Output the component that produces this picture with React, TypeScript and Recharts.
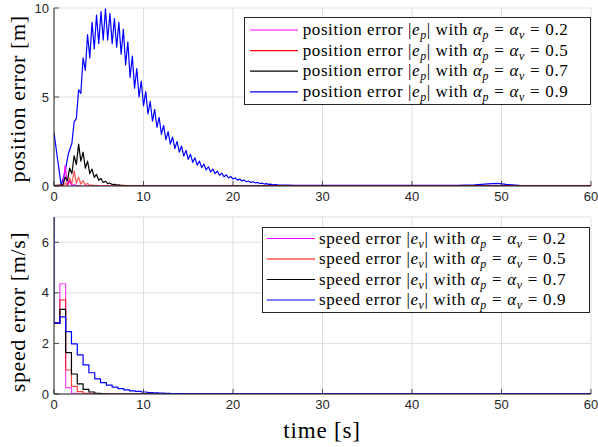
import React from 'react';
import { LineChart, Line, XAxis, YAxis, CartesianGrid } from 'recharts';

// ---------- data ----------
const xTicks = [0, 10, 20, 30, 40, 50, 60];
const posTicks = [0, 5, 10];
const speedTicks = [0, 2, 4, 6];
const alphaValues = ['0.2', '0.5', '0.7', '0.9'];
const seriesColors = ['#ff00ff', '#ff0000', '#000000', '#0000ff'];

// position error [t, |e_p|]
const posMagenta: [number, number][] = [
  [0, 0.02], [0.8, 0.02], [1.0, 0.02], [1.25, 1.15], [1.5, 0.03], [1.75, 0.3], [2.0, 0.02],
  [2.25, 0.08], [2.5, 0.01], [2.75, 0.02], [3.0, 0.0], [60, 0.0],
];
const posRed: [number, number][] = [
  [0, 0.02], [0.8, 0.03], [1.0, 0.02], [1.25, 0.15], [1.5, 0.05], [1.75, 0.45], [2.0, 0.12],
  [2.25, 0.85], [2.5, 0.15], [2.75, 0.5], [3.0, 0.1], [3.25, 0.3], [3.5, 0.06], [3.75, 0.15],
  [4.0, 0.03], [4.25, 0.07], [4.5, 0.015], [4.75, 0.03], [5.0, 0.01], [60, 0.005],
];
const posBlack: [number, number][] = [
  [0, 0.02], [0.8, 0.05], [1.0, 0.05], [1.25, 0.5], [1.5, 0.3], [1.75, 1.0], [2.0, 0.7],
  [2.25, 1.7], [2.5, 1.2], [2.75, 2.35], [3.0, 1.4], [3.25, 1.9], [3.5, 1.0], [3.75, 1.4],
  [4.0, 0.7], [4.25, 0.95], [4.5, 0.48], [4.75, 0.65], [5.0, 0.32], [5.25, 0.42], [5.5, 0.2],
  [5.75, 0.27], [6.0, 0.13], [6.25, 0.17], [6.5, 0.08], [6.75, 0.1], [7.0, 0.05], [7.25, 0.06],
  [7.5, 0.03], [7.75, 0.04], [8.0, 0.02], [8.25, 0.025], [8.5, 0.015], [10, 0.01], [60, 0.01],
];
const posBlue: [number, number][] = [
  [0, 3.0], [0.4, 1.5], [0.8, 0.05], [1.2, 0.7], [1.6, 1.8],
  [2.0, 2.4], [2.25, 3.6], [2.5, 3.8], [2.75, 5.4], [3.0, 5.2], [3.25, 7.2], [3.5, 6.5], [3.75, 8.5],
  [4.0, 7.2], [4.25, 9.2], [4.5, 7.7], [4.75, 9.6], [5.0, 8.0], [5.25, 9.8], [5.5, 8.2], [5.75, 9.95],
  [6.0, 8.2], [6.25, 9.7], [6.5, 8.0], [6.75, 9.4], [7.0, 7.8], [7.25, 9.2], [7.5, 7.4], [7.75, 8.8],
  [8.0, 6.8], [8.25, 8.1], [8.5, 6.1], [8.75, 7.3], [9.0, 5.5], [9.25, 6.6], [9.5, 5.0], [9.75, 5.9],
  [10.0, 4.5], [10.25, 5.3], [10.5, 4.05], [10.75, 4.75], [11.0, 3.65], [11.25, 4.3], [11.5, 3.3],
  [11.75, 3.85], [12.0, 2.9], [12.25, 3.4], [12.5, 2.6], [12.75, 3.05], [13.0, 2.35], [13.25, 2.75],
  [13.5, 2.1], [13.75, 2.5], [14.0, 1.9], [14.25, 2.25], [14.5, 1.68], [14.75, 2.0], [15.0, 1.5],
  [15.25, 1.78], [15.5, 1.33], [15.75, 1.58], [16.0, 1.17], [16.25, 1.4], [16.5, 1.03], [16.75, 1.23],
  [17.0, 0.9], [17.25, 1.08], [17.5, 0.79], [17.75, 0.95], [18.0, 0.69], [18.25, 0.83], [18.5, 0.6],
  [18.75, 0.72], [19.0, 0.52], [19.25, 0.62], [19.5, 0.45], [19.75, 0.54], [20.0, 0.39], [20.25, 0.46],
  [20.5, 0.33], [20.75, 0.39], [21.0, 0.28], [21.25, 0.33], [21.5, 0.24], [21.75, 0.28], [22.0, 0.2],
  [22.25, 0.24], [22.5, 0.17], [22.75, 0.2], [23.0, 0.14], [23.25, 0.16], [23.5, 0.11], [23.75, 0.13],
  [24.0, 0.09], [24.25, 0.1], [24.5, 0.07], [24.75, 0.08], [25.0, 0.06], [27, 0.04], [30, 0.03],
  [45, 0.03], [47, 0.06], [48.5, 0.12], [49.5, 0.15], [50.5, 0.09], [52, 0.03], [60, 0.02],
];

// speed error [t, |e_v|] (sample-and-hold)
const speedMagenta: [number, number][] = [
  [0, 2.8], [0.65, 4.36], [1.3, 0.25], [1.95, 0.03], [2.6, 0], [60, 0],
];
const speedRed: [number, number][] = [
  [0, 2.8], [0.65, 3.72], [1.3, 0.95], [1.95, 0.3], [2.6, 0.09], [3.25, 0.03], [3.9, 0.01], [4.55, 0], [60, 0],
];
const speedBlack: [number, number][] = [
  [0, 2.8], [0.65, 3.35], [1.3, 1.64], [1.95, 0.79], [2.6, 0.4], [3.25, 0.18], [3.9, 0.08],
  [4.55, 0.03], [5.2, 0.01], [5.85, 0], [60, 0],
];
const speedBlue: [number, number][] = [
  [0, 7.0], [0, 2.8], [0.65, 3.05], [1.3, 2.47], [1.95, 1.98], [2.6, 1.55], [3.25, 1.15], [3.9, 0.84],
  [4.55, 0.6], [5.2, 0.45], [5.85, 0.35], [6.5, 0.27], [7.15, 0.21], [7.8, 0.16], [8.45, 0.125],
  [9.1, 0.1], [9.75, 0.08], [10.4, 0.06], [11.05, 0.05], [11.7, 0.04], [12.35, 0.03], [13.0, 0.02],
  [13.65, 0.015], [14.3, 0.01], [60, 0.01],
];

// ---------- helpers ----------
const toPts = (arr: [number, number][]) => arr.map(([t, v]) => ({ t, v }));

const AX = '#262626';
const TICK_FONT = '"Liberation Sans", Arial, Helvetica, sans-serif';
const SERIF = '"Liberation Serif", "Times New Roman", serif';
const TICK_LEN = 5;

const BottomTick = (props: any) => {
  const { x, y, payload } = props;
  const axisY = y - 6;
  return (
    <g>
      <line x1={x} x2={x} y1={axisY} y2={axisY - TICK_LEN} stroke={AX} strokeWidth={0.8} />
      <text x={x} y={y} dy="0.71em" textAnchor="middle" fontFamily={TICK_FONT} fontSize={13} fill={AX}>
        {payload.value}
      </text>
    </g>
  );
};
const TopTick = (props: any) => {
  const { x, y } = props;
  return <line x1={x} x2={x} y1={y} y2={y + TICK_LEN} stroke={AX} strokeWidth={0.8} />;
};
const LeftTick = (props: any) => {
  const { x, y, payload } = props;
  const axisX = x + 5;
  return (
    <g>
      <line x1={axisX} x2={axisX + TICK_LEN} y1={y} y2={y} stroke={AX} strokeWidth={0.8} />
      <text x={x} y={y} dy="0.35em" textAnchor="end" fontFamily={TICK_FONT} fontSize={13} fill={AX}>
        {payload.value}
      </text>
    </g>
  );
};
const RightTick = (props: any) => {
  const { x, y } = props;
  return <line x1={x} x2={x - TICK_LEN} y1={y} y2={y} stroke={AX} strokeWidth={0.8} />;
};

const Sub = ({ children }: { children: React.ReactNode }) => (
  <sub style={{ fontSize: '0.7em', verticalAlign: '-0.3em', lineHeight: 0, fontStyle: 'italic' }}>{children}</sub>
);
const Eq = () => <span style={{ margin: '0 0.3em' }}>=</span>;

type LegendProps = {
  left: number; top: number; width: number; height: number;
  prefix: string; errSub: string; firstRow: number; rowGap: number;
  lineX1: number; lineX2: number; textX: number;
};
const LegendBox = (p: LegendProps) => (
  <div
    style={{
      position: 'absolute', left: p.left, top: p.top, width: p.width, height: p.height,
      boxSizing: 'border-box', border: `1px solid ${AX}`, background: '#fff',
    }}
  >
    <svg width={p.width} height={p.height} style={{ position: 'absolute', left: -1, top: -1 }}>
      {alphaValues.map((a, i) => (
        <line key={a} x1={p.lineX1} x2={p.lineX2} y1={p.firstRow + i * p.rowGap} y2={p.firstRow + i * p.rowGap}
          stroke={seriesColors[i]} strokeWidth={1.2} />
      ))}
    </svg>
    {alphaValues.map((a, i) => (
      <div key={a}
        style={{
          position: 'absolute', left: p.textX - 1, top: p.firstRow + i * p.rowGap - 12, height: 22,
          lineHeight: '22px', whiteSpace: 'nowrap', fontFamily: SERIF, fontSize: 17, letterSpacing: '0.6px', color: '#000',
        }}
      >
        {p.prefix} |<i>e</i><Sub>{p.errSub}</Sub>| with <i>α</i><Sub>p</Sub><Eq /><i>α</i><Sub>v</Sub><Eq />{a}
      </div>
    ))}
  </div>
);

const labelStyle: React.CSSProperties = {
  position: 'absolute', width: 240, height: 28, lineHeight: '28px', textAlign: 'center',
  fontFamily: SERIF, fontSize: 22, letterSpacing: '0.6px', color: '#000', whiteSpace: 'nowrap',
};

export default function App() {
  const lineCommon = { dot: false, isAnimationActive: false, strokeWidth: 1.2, strokeLinejoin: 'round' as const };
  return (
    <div style={{ position: 'absolute', left: 0, top: 0, width: 598, height: 447, background: '#fff', overflow: 'hidden' }}>
      {/* top: position error */}
      <div style={{ position: 'absolute', left: 0, top: 0 }}>
        <LineChart width={598} height={205} margin={{ top: 8, right: 7, left: 0, bottom: 0 }}>
          <CartesianGrid stroke="#dfdfdf" strokeWidth={1} />
          <XAxis dataKey="t" type="number" domain={[0, 60]} ticks={xTicks} allowDataOverflow height={19}
            tickSize={0} tickMargin={6} tickLine={false} tick={<BottomTick />} axisLine={{ stroke: AX, strokeWidth: 1 }} interval={0} />
          <XAxis xAxisId="top" orientation="top" dataKey="t" type="number" domain={[0, 60]} ticks={xTicks} allowDataOverflow height={0}
            tickSize={0} tickMargin={0} tickLine={false} tick={<TopTick />} axisLine={{ stroke: AX, strokeWidth: 1 }} interval={0} />
          <YAxis type="number" domain={[0, 10]} ticks={posTicks} allowDataOverflow width={54}
            tickSize={0} tickMargin={5} tickLine={false} tick={<LeftTick />} axisLine={{ stroke: AX, strokeWidth: 1 }} interval={0} />
          <YAxis yAxisId="right" orientation="right" type="number" domain={[0, 10]} ticks={posTicks} allowDataOverflow width={0}
            tickSize={0} tickMargin={0} tickLine={false} tick={<RightTick />} axisLine={{ stroke: AX, strokeWidth: 1 }} interval={0} />
          <Line {...lineCommon} data={toPts(posBlue)} dataKey="v" stroke={seriesColors[3]} type="linear" />
          <Line {...lineCommon} data={toPts(posMagenta)} dataKey="v" stroke={seriesColors[0]} type="linear" />
          <Line {...lineCommon} data={toPts(posBlack)} dataKey="v" stroke={seriesColors[2]} type="linear" />
          <Line {...lineCommon} data={toPts(posRed)} dataKey="v" stroke={seriesColors[1]} strokeOpacity={0.65} type="linear" />
        </LineChart>
      </div>

      {/* bottom: speed error */}
      <div style={{ position: 'absolute', left: 0, top: 209 }}>
        <LineChart width={598} height={204} margin={{ top: 8, right: 7, left: 0, bottom: 0 }}>
          <CartesianGrid stroke="#dfdfdf" strokeWidth={1} />
          <XAxis dataKey="t" type="number" domain={[0, 60]} ticks={xTicks} allowDataOverflow height={19}
            tickSize={0} tickMargin={6} tickLine={false} tick={<BottomTick />} axisLine={{ stroke: AX, strokeWidth: 1 }} interval={0} />
          <XAxis xAxisId="top" orientation="top" dataKey="t" type="number" domain={[0, 60]} ticks={xTicks} allowDataOverflow height={0}
            tickSize={0} tickMargin={0} tickLine={false} tick={<TopTick />} axisLine={{ stroke: AX, strokeWidth: 1 }} interval={0} />
          <YAxis type="number" domain={[0, 7]} ticks={speedTicks} allowDataOverflow width={54}
            tickSize={0} tickMargin={5} tickLine={false} tick={<LeftTick />} axisLine={{ stroke: AX, strokeWidth: 1 }} interval={0} />
          <YAxis yAxisId="right" orientation="right" type="number" domain={[0, 7]} ticks={speedTicks} allowDataOverflow width={0}
            tickSize={0} tickMargin={0} tickLine={false} tick={<RightTick />} axisLine={{ stroke: AX, strokeWidth: 1 }} interval={0} />
          <Line {...lineCommon} data={toPts(speedMagenta)} dataKey="v" stroke={seriesColors[0]} strokeOpacity={0.75} type="stepAfter" />
          <Line {...lineCommon} data={toPts(speedRed)} dataKey="v" stroke={seriesColors[1]} strokeOpacity={0.75} type="stepAfter" />
          <Line {...lineCommon} data={toPts(speedBlack)} dataKey="v" stroke={seriesColors[2]} type="stepAfter" />
          <Line {...lineCommon} data={toPts(speedBlue)} dataKey="v" stroke={seriesColors[3]} type="stepAfter" />
        </LineChart>
      </div>

      {/* axis labels */}
      <div style={{ ...labelStyle, left: 18 - 120, top: 99 - 14, transform: 'rotate(-90deg)' }}>position error [m]</div>
      <div style={{ ...labelStyle, left: 18 - 120, top: 312 - 14, transform: 'rotate(-90deg)' }}>speed error [m/s]</div>
      <div style={{ ...labelStyle, left: 322 - 120, top: 431 - 14, fontSize: 23, letterSpacing: '0.8px' }}>time [s]</div>

      {/* legends */}
      <LegendBox left={244} top={17} width={347} height={88} prefix="position error" errSub="p"
        firstRow={13} rowGap={20.6} lineX1={6} lineX2={54} textX={58.7} />
      <LegendBox left={262} top={227} width={328} height={86} prefix="speed error" errSub="v"
        firstRow={11.5} rowGap={20.5} lineX1={4.7} lineX2={53} textX={57} />
    </div>
  );
}
